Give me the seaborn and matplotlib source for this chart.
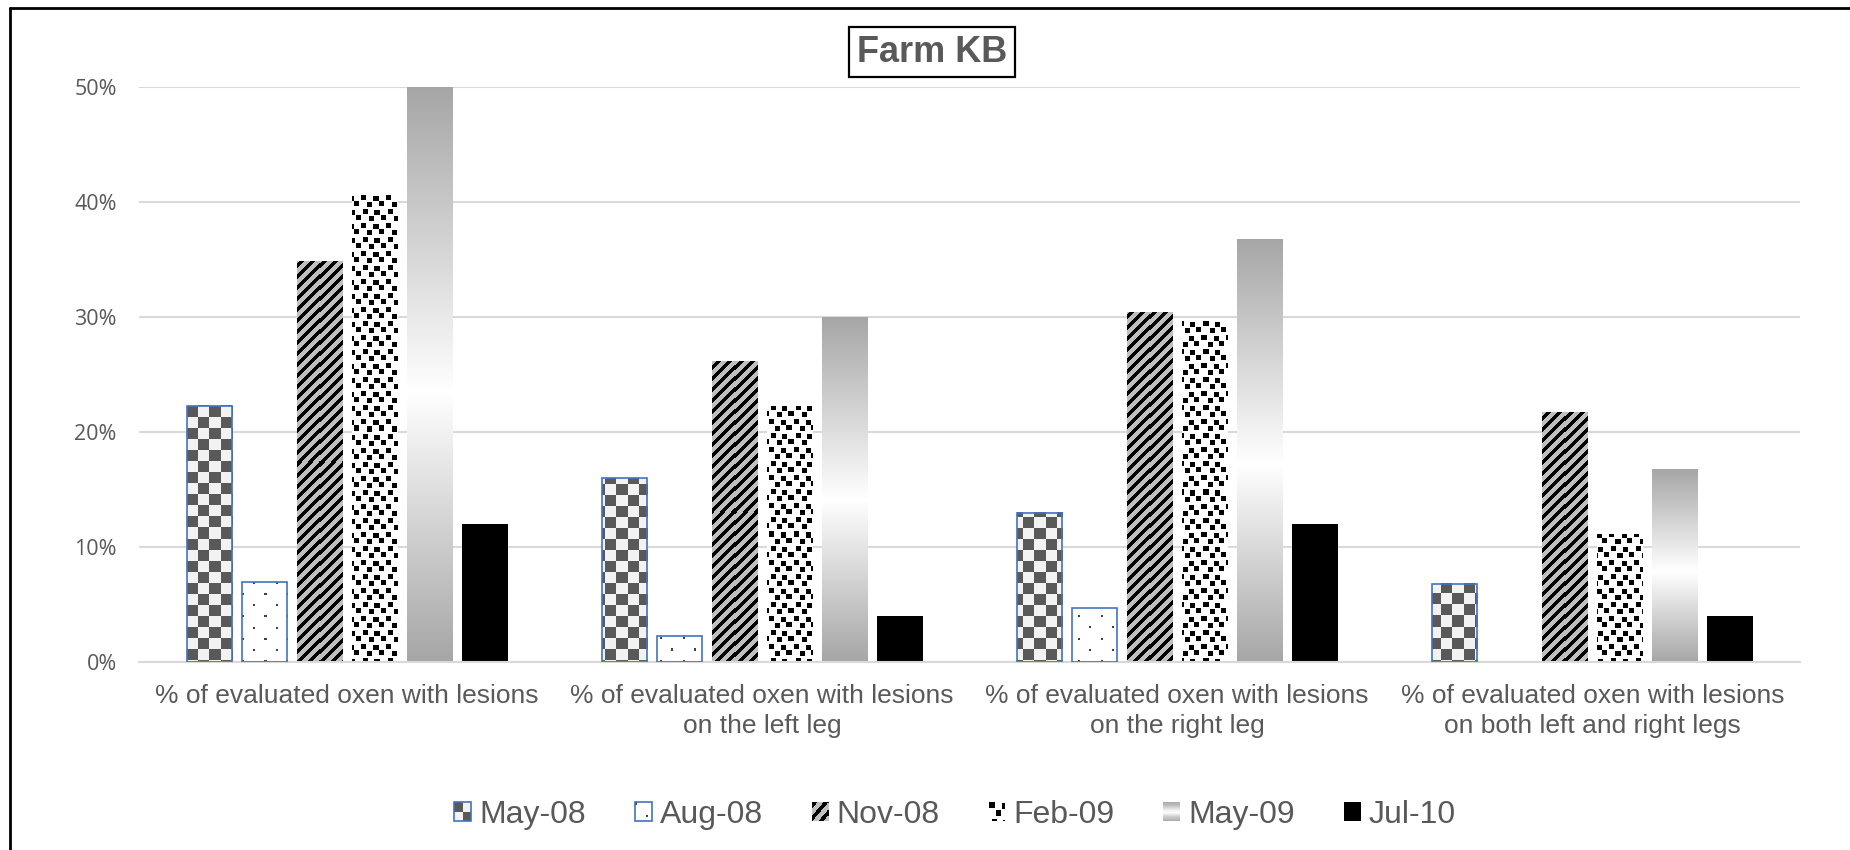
import numpy as np
import pandas as pd
import matplotlib
matplotlib.use("Agg")
import matplotlib.pyplot as plt
import seaborn as sns
from matplotlib.patches import Rectangle
from matplotlib.lines import Line2D
from matplotlib.legend_handler import HandlerBase
from matplotlib.ticker import PercentFormatter

# ---- data -------------------------------------------------------------
categories = [
    "% of evaluated oxen with lesions",
    "% of evaluated oxen with lesions\non the left leg",
    "% of evaluated oxen with lesions\non the right leg",
    "% of evaluated oxen with lesions\non both left and right legs",
]
surveys = ["May-08", "Aug-08", "Nov-08", "Feb-09", "May-09", "Jul-10"]
may08 = [0.223, 0.160, 0.130, 0.068]
aug08 = [0.070, 0.023, 0.047, 0.000]
nov08 = [0.348, 0.261, 0.304, 0.217]
feb09 = [0.407, 0.222, 0.296, 0.111]
may09 = [0.500, 0.300, 0.367, 0.167]
jul10 = [0.120, 0.040, 0.120, 0.040]
y_ticks = [0.0, 0.1, 0.2, 0.3, 0.4, 0.5]

series = [may08, aug08, nov08, feb09, may09, jul10]
df = pd.DataFrame(
    [(c, s, v) for s, vals in zip(surveys, series) for c, v in zip(categories, vals)],
    columns=["measure", "survey", "share"],
)

# ---- style ------------------------------------------------------------
W, H, DPI = 1850, 850, 100
TEXT = "#595959"
GRID = "#d9d9d9"
BLUE = "#4472c4"
sns.set_style("white")
plt.rcParams["font.family"] = ["Liberation Sans", "DejaVu Sans"]

kinds = ["checker", "dots", "stripes", "confetti", "gradient", "solid"]
edged = {"checker": BLUE, "dots": BLUE}

# confetti tile: (row, col) of 5x5 black squares in a 28x24 repeat
CONFETTI = [(0, 1), (1, 13), (7, 7), (6, 18), (14, 3), (15, 14), (21, 9), (20, 20)]


def rgb(h):
    h = h.lstrip("#")
    return np.array([int(h[i:i + 2], 16) / 255 for i in (0, 2, 4)])


def texture(kind, h, w, ox, oy, cell=11):
    """Return an (h, w, 3) RGB fill for a bar in device pixels."""
    yy, xx = np.mgrid[0:h, 0:w]
    X, Y = xx + ox, yy + oy
    img = np.ones((h, w, 3))
    if kind == "checker":
        m = ((X // cell + Y // cell) % 2) == 0
        img[:] = rgb("#f2f2f2")
        img[m] = rgb("#595959")
    elif kind == "dots":
        row = Y // 11
        shift = (row % 2) * 11
        m = (((X + shift) % 22) < 2) & ((Y % 11) < 2)
        img[m] = rgb("#404040")
    elif kind == "stripes":
        img[:] = rgb("#bfbfbf")
        m = ((X + Y) % 11) < 5
        img[m] = 0.0
    elif kind == "confetti":
        tile = np.zeros((28, 24), bool)
        for r, c in CONFETTI:
            rr = (np.arange(r, r + 5)) % 28
            cc = (np.arange(c, c + 5)) % 24
            tile[np.ix_(rr, cc)] = True
        m = tile[Y % 28, X % 24]
        img[m] = 0.0
    elif kind == "gradient":
        t = 1.0 - (yy + 0.5) / max(h, 1)          # 0 at bottom, 1 at top
        c = 0.47
        g = 0.65
        v = np.where(t < c, g + (1 - g) * t / c, 1 - (1 - g) * (t - c) / (1 - c))
        img[:] = v[..., None]
    elif kind == "solid":
        img[:] = 0.0
    return img


# ---- figure -----------------------------------------------------------
fig = plt.figure(figsize=(W / DPI, H / DPI), dpi=DPI)
ax = fig.add_axes([139 / W, 188 / H, 1661 / W, 575 / H])

sns.barplot(
    data=df, x="measure", y="share", hue="survey",
    order=categories, hue_order=surveys,
    width=0.795, gap=0.18, legend=False, ax=ax,
    palette=["#888888"] * len(surveys), errorbar=None,
)
ax.set_xlim(-0.5, len(categories) - 0.5)
ax.set_ylim(0, 0.5)

# textured fills for every bar
for kind, cont in zip(kinds, ax.containers):
    for p in cont.patches:
        bb = p.get_window_extent()
        w = int(round(bb.width))
        h = int(round(bb.height))
        if w < 1 or h < 1:
            p.set_visible(False)
            continue
        ox = int(round(bb.x0))
        oy = int(round(H - bb.y1))
        img = texture(kind, h, w, ox, oy)
        x0, y0 = p.get_x(), p.get_y()
        ax.imshow(img, extent=(x0, x0 + p.get_width(), y0, y0 + p.get_height()),
                  origin="upper", interpolation="nearest", aspect="auto", zorder=2)
        p.set_facecolor("none")
        p.set_zorder(3)
        if kind in edged:
            p.set_edgecolor(edged[kind])
            p.set_linewidth(1.2)
        else:
            p.set_linewidth(0)

ax.set_xlim(-0.5, len(categories) - 0.5)
ax.set_ylim(0, 0.5)

# axes cosmetics
ax.set_xlabel("")
ax.set_ylabel("")
ax.set_yticks(y_ticks)
ax.yaxis.set_major_formatter(PercentFormatter(1.0, decimals=0))
ax.grid(axis="y", color=GRID, linewidth=1.5)
ax.set_axisbelow(True)
for side in ["left", "right", "top"]:
    ax.spines[side].set_visible(False)
ax.spines["bottom"].set_color(GRID)
ax.spines["bottom"].set_linewidth(1.5)
ax.tick_params(axis="both", length=0)
ax.tick_params(axis="x", pad=16, labelsize=19, labelcolor=TEXT)
ax.tick_params(axis="y", pad=16, labelsize=15.5, labelcolor=TEXT)
for lab in ax.get_yticklabels():
    lab.set_fontfamily(["Open Sans", "DejaVu Sans"])
for lab in ax.get_xticklabels():
    lab.set_linespacing(1.3)

# title in a framed box
fig.text(932 / W, 1 - 52 / H, "Farm KB", ha="center", va="center",
         fontsize=26, fontweight="bold", color=TEXT,
         bbox=dict(boxstyle="square,pad=0.22", facecolor="white",
                   edgecolor="black", linewidth=1.6))


# legend with small textured swatches
class TextureHandler(HandlerBase):
    def __init__(self, kind):
        super().__init__()
        self.kind = kind

    def create_artists(self, legend, orig_handle, xdescent, ydescent,
                       width, height, fontsize, trans):
        n = 16
        tex = texture(self.kind, n, n, 0, 0, cell=8)
        cw, ch = width / n, height / n
        arts = []
        for r in range(n):
            for c in range(n):
                arts.append(Rectangle(
                    (-xdescent + c * cw, -ydescent + (n - 1 - r) * ch),
                    cw * 1.08, ch * 1.08, facecolor=tex[r, c], edgecolor="none",
                    linewidth=0, antialiased=False, transform=trans))
        if self.kind in edged:
            arts.append(Rectangle((-xdescent, -ydescent), width, height,
                                  facecolor="none", edgecolor=edged[self.kind],
                                  linewidth=1.2, transform=trans))
        return arts


handles = [Rectangle((0, 0), 1, 1, label=s) for s in surveys]
fig.legend(
    handles=handles, labels=surveys, loc="center",
    bbox_to_anchor=(955 / W, 1 - 815 / H), ncol=6, frameon=False,
    fontsize=23, labelcolor=TEXT, handlelength=0.53, handleheight=0.53,
    handletextpad=0.25, columnspacing=1.53,
    handler_map={h: TextureHandler(k) for h, k in zip(handles, kinds)},
)

# outer chart frame (left and top edges)
fig.add_artist(Line2D([10 / W, 10 / W], [-0.05, 1 - 8 / H], color="black",
                      linewidth=2, transform=fig.transFigure))
fig.add_artist(Line2D([10 / W, 1.05], [1 - 8 / H, 1 - 8 / H], color="black",
                      linewidth=2, transform=fig.transFigure))

fig.savefig("out.png", dpi=DPI, facecolor="white")
